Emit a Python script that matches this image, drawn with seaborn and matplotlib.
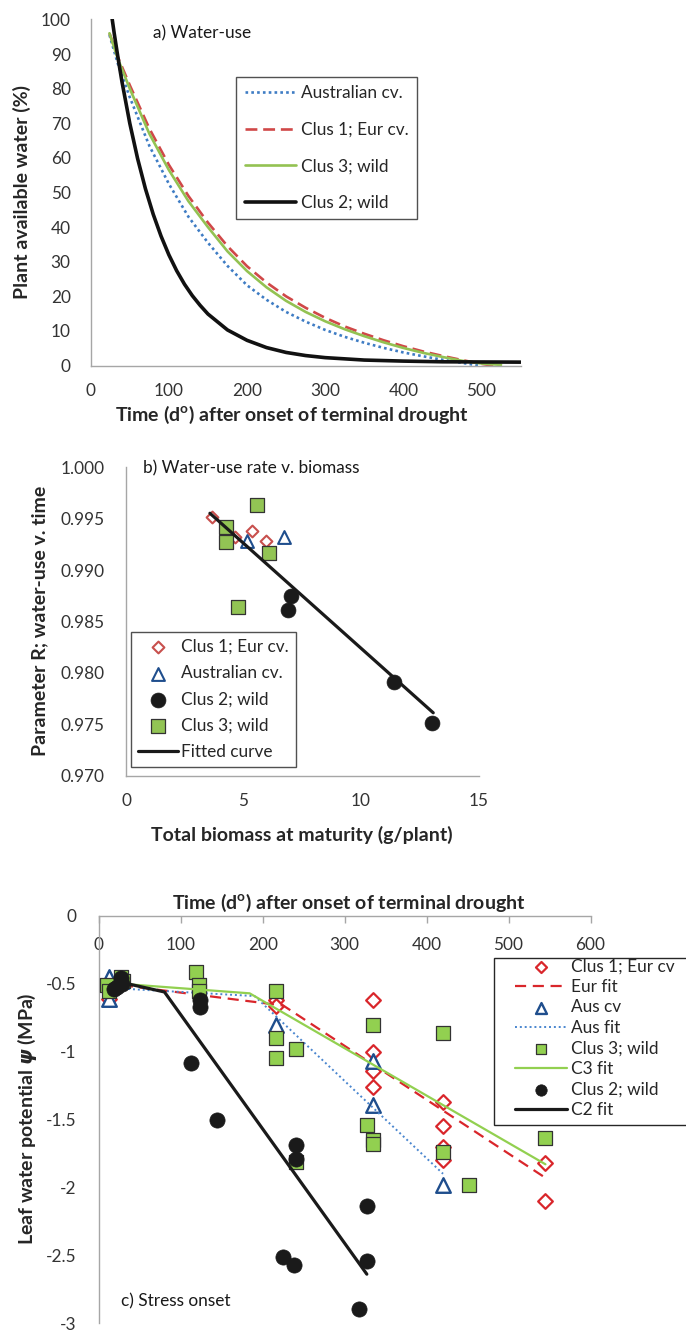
import matplotlib
matplotlib.use('Agg')
import matplotlib.pyplot as plt
import matplotlib.patches as mpatches
from matplotlib.ticker import FormatStrFormatter, MultipleLocator
import seaborn as sns

# a) Water-use : plant available water (%) v. time (d deg)
aus_t = [24, 35, 50, 75, 100, 125, 150, 175, 200, 225, 250, 275, 300, 325, 350, 375, 400, 425, 450, 475, 497]
aus_paw = [95.5, 87, 77.5, 63.5, 52.5, 43, 35.5, 28.8, 23.2, 19, 15.5, 12.7, 10.3, 8.3, 6.6, 5.1, 3.8, 2.7, 1.7, 0.8, 0]
eur_t = [24, 35, 50, 75, 100, 125, 150, 175, 200, 225, 250, 275, 300, 325, 350, 375, 400, 425, 450, 475, 500, 515]
eur_paw = [96, 89, 81, 68.5, 58, 49, 41.3, 34.5, 28.7, 24, 20, 16.7, 13.8, 11.3, 9.2, 7.3, 5.6, 4.1, 2.8, 1.6, 0.5, 0]
c3_t = [24, 35, 50, 75, 100, 125, 150, 175, 200, 225, 250, 275, 300, 325, 350, 375, 400, 425, 450, 475, 500, 525]
c3_paw = [96, 88.5, 80, 67, 56.5, 47.5, 40, 33, 27.3, 22.6, 18.7, 15.5, 12.8, 10.5, 8.5, 6.7, 5.1, 3.7, 2.5, 1.4, 0.6, 0.2]
c2_t = [25, 30, 35, 40, 50, 60, 70, 80, 90, 100, 110, 120, 130, 140, 150, 175, 200, 225, 250, 275, 300, 350, 400, 450, 500, 550]
c2_paw = [104, 96.1, 88.8, 82.0, 70.0, 59.8, 51.1, 43.7, 37.4, 32.0, 27.4, 23.5, 20.2, 17.4, 14.9, 10.3, 7.3, 5.2, 3.8, 2.9, 2.3, 1.6, 1.3, 1.1, 1.05, 1.0]

# b) Parametre R v. biomasse totale (g/plant)
b_eur_bio = [3.64, 4.63, 5.34, 5.95]
b_eur_r = [0.99519, 0.99325, 0.99383, 0.99283]
b_aus_bio = [5.16, 6.73]
b_aus_r = [0.99286, 0.99325]
b_c2_bio = [7.0, 6.88, 11.38, 13.03]
b_c2_r = [0.98752, 0.98612, 0.97912, 0.97515]
b_c3_bio = [5.56, 4.25, 4.25, 6.09, 4.76]
b_c3_r = [0.99633, 0.99416, 0.99276, 0.99169, 0.98638]
b_fit_bio = [3.57, 13.07]
b_fit_r = [0.99553, 0.97612]

# c) Stress onset : potentiel hydrique foliaire (MPa)
c_eur_t = [12, 216, 216, 334, 334, 334, 334, 420, 420, 420, 420, 544, 544]
c_eur_psi = [-0.61, -0.62, -0.66, -0.62, -1.0, -1.14, -1.26, -1.37, -1.55, -1.70, -1.80, -1.82, -2.10]
c_eurfit_t = [28, 225, 545]
c_eurfit_psi = [-0.51, -0.66, -1.93]
c_aus_t = [12, 12, 216, 334, 334, 420]
c_aus_psi = [-0.45, -0.61, -0.80, -1.07, -1.39, -1.98]
c_ausfit_t = [12, 190, 420]
c_ausfit_psi = [-0.53, -0.59, -1.90]
c_c3_t = [10, 12, 27, 29, 119, 122, 122, 216, 216, 216, 241, 241, 327, 335, 335, 335, 420, 420, 452, 545]
c_c3_psi = [-0.51, -0.55, -0.45, -0.48, -0.41, -0.51, -0.55, -0.55, -0.90, -1.05, -0.98, -1.81,
            -1.54, -0.80, -1.65, -1.68, -0.86, -1.74, -1.98, -1.64]
c_c3fit_t = [28, 184, 545]
c_c3fit_psi = [-0.50, -0.57, -1.83]
c_c2_t = [18, 22, 27, 28, 113, 123, 123, 144, 225, 238, 241, 241, 327, 327, 318]
c_c2_psi = [-0.54, -0.52, -0.46, -0.50, -1.085, -0.62, -0.67, -1.50, -2.51, -2.57, -1.69, -1.79, -2.14, -2.54, -2.90]
c_c2fit_t = [28, 80, 327]
c_c2fit_psi = [-0.49, -0.56, -2.64]

sns.set_style('white')
plt.rcParams['font.family'] = ['Lato', 'DejaVu Sans']
plt.rcParams['axes.unicode_minus'] = False
plt.rcParams['mathtext.fontset'] = 'custom'
plt.rcParams['mathtext.it'] = 'DejaVu Sans:italic:bold'
plt.rcParams['mathtext.rm'] = 'Lato'

FS = 12.4
FS_LAB = 14
GRIS = '#A6A6A6'
TXT = '#333333'
W, H = 686, 1330


def cadre(x0, y_haut, x1, y_bas):
    # position d'un axe en pixels -> fraction de figure
    return [x0 / W, 1 - y_bas / H, (x1 - x0) / W, (y_bas - y_haut) / H]


def style(ax, cotes):
    for s in ['left', 'right', 'top', 'bottom']:
        ax.spines[s].set_visible(s in cotes)
        ax.spines[s].set_color(GRIS)
        ax.spines[s].set_linewidth(1.0)
    ax.tick_params(colors=GRIS, labelcolor=TXT, labelsize=FS, length=4.8, width=1.0)


fig = plt.figure(figsize=(W / 100, H / 100), dpi=100)

# ---------------- a) Water-use
ax1 = fig.add_axes(cadre(90.7, 19.4, 520.6, 365.6))
sns.lineplot(x=aus_t, y=aus_paw, sort=False, estimator=None, ax=ax1, color='#3E7CC4',
             lw=1.9, linestyle=(0, (1, 1.2)), label='Australian cv.')
sns.lineplot(x=eur_t, y=eur_paw, sort=False, estimator=None, ax=ax1, color='#D04848',
             lw=1.9, linestyle=(0, (4.5, 2.2)), label='Clus 1; Eur cv.')
sns.lineplot(x=c3_t, y=c3_paw, sort=False, estimator=None, ax=ax1, color='#93C252',
             lw=1.9, label='Clus 3; wild')
sns.lineplot(x=c2_t, y=c2_paw, sort=False, estimator=None, ax=ax1, color='#111111',
             lw=2.6, label='Clus 2; wild')
ax1.set_xlim(0, 550)
ax1.set_ylim(0, 100)
ax1.xaxis.set_major_locator(MultipleLocator(100))
ax1.yaxis.set_major_locator(MultipleLocator(10))
style(ax1, ['left', 'bottom'])
ax1.tick_params(axis='y', pad=9.6)
ax1.tick_params(axis='x', pad=8)
ax1.set_xlabel(r'Time (d$^{\mathregular{o}}$) after onset of terminal drought', fontsize=FS_LAB, fontweight='bold')
ax1.set_ylabel('Plant available water (%)', fontsize=FS_LAB, fontweight='bold')
ax1.xaxis.set_label_coords(0.4683, -0.1427)
ax1.xaxis.label.set_va('center')
ax1.yaxis.set_label_coords(-0.16, 0.5014)
ax1.yaxis.label.set_va('center')
ax1.text(0.145, 0.96, 'a) Water-use', transform=ax1.transAxes, fontsize=FS, va='center', ha='left', color='#1a1a1a')
leg = ax1.legend(loc='upper left', bbox_to_anchor=(236 / W, 1 - 76.7 / H), bbox_transform=fig.transFigure,
                 fontsize=FS, frameon=True, fancybox=False, borderpad=0.5, labelspacing=1.19,
                 handlelength=3.0, handletextpad=0.25, borderaxespad=0)
leg.get_frame().set_edgecolor('#262626')
leg.get_frame().set_linewidth(1.0)

# ---------------- b) Water-use rate v. biomass
ax2 = fig.add_axes(cadre(126, 467.3, 478.6, 775.7))
sns.scatterplot(x=b_eur_bio, y=b_eur_r, ax=ax2, marker='D', s=36, color='white',
                edgecolor='#C8504D', linewidth=1.5, label='Clus 1; Eur cv.', zorder=3)
sns.scatterplot(x=b_aus_bio, y=b_aus_r, ax=ax2, marker='^', s=85, color='white',
                edgecolor='#1F4E8D', linewidth=1.5, label='Australian cv.', zorder=3)
sns.scatterplot(x=b_c2_bio, y=b_c2_r, ax=ax2, marker='o', s=115, color='#1a1a1a',
                edgecolor='#1a1a1a', linewidth=0.5, label='Clus 2; wild', zorder=3)
sns.scatterplot(x=b_c3_bio, y=b_c3_r, ax=ax2, marker='s', s=90, color='#92C454',
                edgecolor='#333333', linewidth=0.9, label='Clus 3; wild', zorder=3)
sns.lineplot(x=b_fit_bio, y=b_fit_r, sort=False, estimator=None, ax=ax2, color='#1a1a1a',
             lw=2.3, label='Fitted curve', zorder=4)
ax2.set_xlim(0, 15)
ax2.set_ylim(0.970, 1.000)
ax2.xaxis.set_major_locator(MultipleLocator(5))
ax2.yaxis.set_major_locator(MultipleLocator(0.005))
ax2.yaxis.set_major_formatter(FormatStrFormatter('%.3f'))
style(ax2, ['left', 'bottom'])
ax2.tick_params(axis='y', pad=10.4)
ax2.tick_params(axis='x', pad=8)
ax2.set_xlabel('Total biomass at maturity (g/plant)', fontsize=FS_LAB, fontweight='bold')
ax2.set_ylabel('Parameter R; water-use v. time', fontsize=FS_LAB, fontweight='bold')
ax2.xaxis.set_label_coords(0.4974, -0.1923)
ax2.xaxis.label.set_va('center')
ax2.yaxis.set_label_coords(-0.2456, 0.5026)
ax2.yaxis.label.set_va('center')
ax2.text(0.0496, 0.9968, 'b) Water-use rate v. biomass', transform=ax2.transAxes, fontsize=FS,
         va='center', ha='left', color='#1a1a1a')
leg = ax2.legend(loc='upper left', bbox_to_anchor=(131 / W, 1 - 632 / H), bbox_transform=fig.transFigure,
                 fontsize=FS, frameon=True, fancybox=False, borderpad=0.4, labelspacing=0.6,
                 handlelength=2.3, handletextpad=0.2, borderaxespad=0, scatterpoints=1)
leg.get_frame().set_edgecolor('#262626')
leg.get_frame().set_linewidth(1.0)

# ---------------- c) Stress onset
ax3 = fig.add_axes(cadre(98.9, 916, 590.5, 1323))
sns.scatterplot(x=c_eur_t, y=c_eur_psi, ax=ax3, marker='D', s=56, color='white',
                edgecolor='#D9262B', linewidth=1.6, label='Clus 1; Eur cv', zorder=3)
sns.lineplot(x=c_eurfit_t, y=c_eurfit_psi, sort=False, estimator=None, ax=ax3, color='#D9262B',
             lw=1.6, linestyle=(0, (5, 3)), label='Eur fit', zorder=4)
sns.scatterplot(x=c_aus_t, y=c_aus_psi, ax=ax3, marker='^', s=110, color='white',
                edgecolor='#1F4E8D', linewidth=1.7, label='Aus cv', zorder=5)
sns.lineplot(x=c_ausfit_t, y=c_ausfit_psi, sort=False, estimator=None, ax=ax3, color='#4A86CF',
             lw=1.4, linestyle=(0, (1, 1.5)), label='Aus fit', zorder=6)
sns.scatterplot(x=c_c3_t, y=c_c3_psi, ax=ax3, marker='s', s=100, color='#92D050',
                edgecolor='#333333', linewidth=0.9, label='Clus 3; wild', zorder=7)
sns.lineplot(x=c_c3fit_t, y=c_c3fit_psi, sort=False, estimator=None, ax=ax3, color='#92D050',
             lw=1.6, label='C3 fit', zorder=8)
sns.scatterplot(x=c_c2_t, y=c_c2_psi, ax=ax3, marker='o', s=120, color='#1a1a1a',
                edgecolor='#1a1a1a', linewidth=0.5, label='Clus 2; wild', zorder=9)
sns.lineplot(x=c_c2fit_t, y=c_c2fit_psi, sort=False, estimator=None, ax=ax3, color='#1a1a1a',
             lw=2.3, label='C2 fit', zorder=10)
ax3.set_xlim(0, 600)
ax3.set_ylim(-3, 0)
ax3.xaxis.set_major_locator(MultipleLocator(100))
ax3.yaxis.set_major_locator(MultipleLocator(0.5))
ax3.yaxis.set_major_formatter(FormatStrFormatter('%g'))
style(ax3, ['left', 'top'])
ax3.tick_params(axis='x', top=True, bottom=False, labeltop=True, labelbottom=False,
                direction='in', pad=-26.6)
ax3.tick_params(axis='y', length=5.5, pad=10.5)
ax3.xaxis.set_label_position('top')
ax3.set_xlabel(r'Time (d$^{\mathregular{o}}$) after onset of terminal drought', fontsize=FS_LAB, fontweight='bold')
ax3.set_ylabel(r'Leaf water potential $\psi$ (MPa)', fontsize=FS_LAB, fontweight='bold')
ax3.xaxis.set_label_coords(0.5094, 1.0312)
ax3.xaxis.label.set_va('center')
ax3.yaxis.set_label_coords(-0.1463, 0.5012)
ax3.yaxis.label.set_va('center')
ax3.text(0.045, 0.0523, 'c) Stress onset', transform=ax3.transAxes, fontsize=FS,
         va='center', ha='left', color='#1a1a1a')
boite = mpatches.Rectangle((494 / W, 1 - 1125 / H), 220 / W, (1125 - 958.3) / H,
                           transform=fig.transFigure, facecolor='white', edgecolor='#262626',
                           lw=1.0, clip_on=False, zorder=15)
ax3.add_patch(boite)
leg = ax3.legend(loc='upper left', bbox_to_anchor=(515 / W, 1 - 958.3 / H), bbox_transform=fig.transFigure,
                 fontsize=FS, frameon=False, borderpad=0, labelspacing=0.26, markerscale=0.75,
                 handlelength=3.0, handletextpad=0.27, borderaxespad=0, scatterpoints=1)
leg.set_zorder(20)

fig.savefig('out.png', dpi=100)
